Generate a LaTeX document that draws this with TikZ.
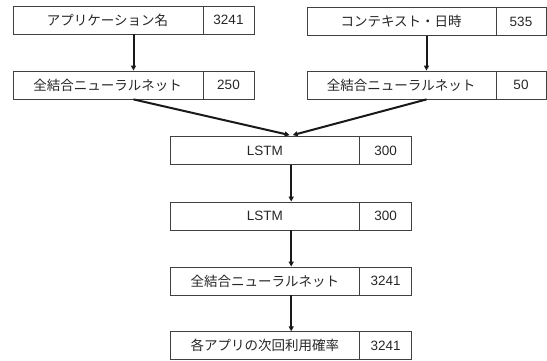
\documentclass[tikz,border=0pt]{standalone}
\usepackage{fontspec}
\setmainfont{Noto Sans CJK JP}
\newfontfamily\latfont{Liberation Sans}
\usetikzlibrary{calc,arrows.meta}
\tikzset{
  box/.style={draw=black!75, line width=0.8pt, minimum height=28pt, inner sep=0pt},
  lbl/.style={font=\fontsize{13.5}{15}\selectfont, text=black!85, inner sep=0pt},
  numcell/.style={box, font=\latfont\fontsize{13.5}{15}\selectfont, text=black!85},
  arr/.style={line width=2pt, black!90, -{Triangle[length=5pt,width=5pt]}}
}
\begin{document}
\begin{tikzpicture}[x=1pt,y=-1pt]
\useasboundingbox (0,0) rectangle (547,361);
% row 1
\node[box, minimum width=241pt] (A) at (133.5,20) {};
\node[numcell, minimum width=51pt, anchor=east] (An) at (A.east) {3241};
\node[lbl] (At) at ($(A.west)!0.5!(An.west)$) {アプリケーション名};
\node[box, minimum width=239pt] (B) at (426.5,21.5) {};
\node[numcell, minimum width=50pt, anchor=east] (Bn) at (B.east) {535};
\node[lbl] (Bt) at ($(B.west)!0.5!(Bn.west)$) {コンテキスト・日時};
% row 2
\node[box, minimum width=241pt] (C) at (133.5,85) {};
\node[numcell, minimum width=51pt, anchor=east] (Cn) at (C.east) {250};
\node[lbl] (Ct) at ($(C.west)!0.5!(Cn.west)$) {全結合ニューラルネット};
\node[box, minimum width=239pt] (D) at (426.5,85) {};
\node[numcell, minimum width=50pt, anchor=east] (Dn) at (D.east) {50};
\node[lbl] (Dt) at ($(D.west)!0.5!(Dn.west)$) {全結合ニューラルネット};
% LSTM 1
\node[box, minimum width=241pt] (E) at (291.2,150.5) {};
\node[numcell, minimum width=52pt, anchor=east] (En) at (E.east) {300};
\node[lbl, font=\latfont\fontsize{13.5}{15}\selectfont] (Et) at ($(E.west)!0.5!(En.west)$) {LSTM};
% LSTM 2
\node[box, minimum width=241pt] (F) at (291.2,216) {};
\node[numcell, minimum width=52pt, anchor=east] (Fn) at (F.east) {300};
\node[lbl, font=\latfont\fontsize{13.5}{15}\selectfont] (Ft) at ($(F.west)!0.5!(Fn.west)$) {LSTM};
% FC
\node[box, minimum width=241pt] (G) at (291.2,281) {};
\node[numcell, minimum width=52pt, anchor=east] (Gn) at (G.east) {3241};
\node[lbl] (Gt) at ($(G.west)!0.5!(Gn.west)$) {全結合ニューラルネット};
% output
\node[box, minimum width=241pt] (H) at (291.2,345.7) {};
\node[numcell, minimum width=52pt, anchor=east] (Hn) at (H.east) {3241};
\node[lbl] (Ht) at ($(H.west)!0.5!(Hn.west)$) {各アプリの次回利用確率};
% arrows
\draw[arr] (A.south) -- (C.north);
\draw[arr] (B.south) -- (D.north);
\draw[arr] (C.south) -- ([xshift=-1.5pt,yshift=1pt]E.north);
\draw[arr] (D.south) -- ([xshift=1.5pt,yshift=1pt]E.north);
\draw[arr] (E.south) -- (F.north);
\draw[arr] (F.south) -- (G.north);
\draw[arr] (G.south) -- (H.north);
\end{tikzpicture}
\end{document}
